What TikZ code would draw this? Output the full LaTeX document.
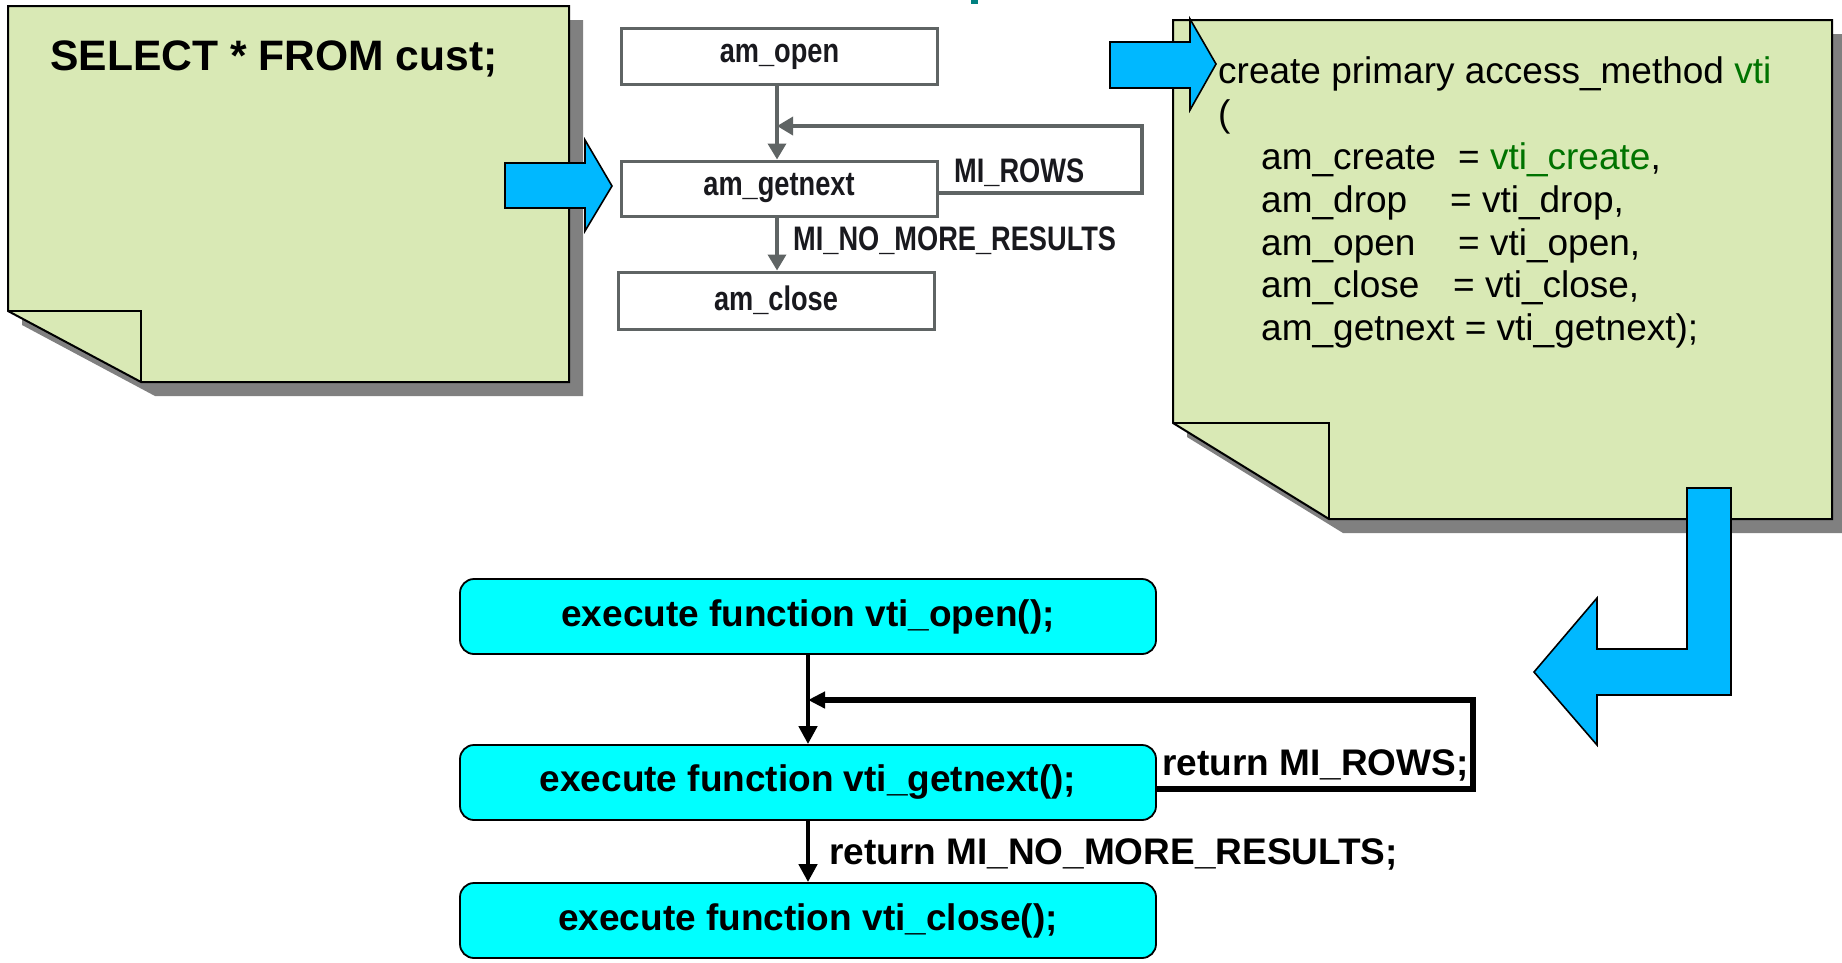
\documentclass[tikz,border=0pt]{standalone}
\usepackage{fontspec}
\setmainfont{Liberation Sans}
\newfontfamily\narrowfont[FakeStretch=0.8]{Liberation Sans}
\usetikzlibrary{arrows.meta}
\definecolor{notegreen}{RGB}{217,233,181}
\definecolor{shadowgray}{RGB}{128,128,128}
\definecolor{arrowblue}{RGB}{0,184,255}
\definecolor{boxcyan}{RGB}{0,255,255}
\definecolor{codegreen}{RGB}{0,115,0}
\definecolor{flowgray}{RGB}{95,100,100}
\definecolor{titleteal}{RGB}{0,128,128}
\definecolor{labelink}{RGB}{25,25,30}
\begin{document}
\begin{tikzpicture}[x=1pt,y=-1pt,
  notebody/.style={fill=notegreen,draw=black,line width=2pt,line join=miter},
  noteshadow/.style={fill=shadowgray,draw=none},
  blockarrow/.style={fill=arrowblue,draw=black,line width=1.6pt,line join=miter},
  grbox/.style={draw=flowgray,line width=3pt,fill=white,inner sep=0pt,minimum width=316pt,minimum height=56pt,font=\narrowfont\bfseries\fontsize{34}{40}\selectfont,text=labelink},
  grarrow/.style={draw=flowgray,line width=3.5pt,line join=miter,-{Triangle[length=16pt,width=18pt]}},
  grlabel/.style={font=\narrowfont\bfseries\fontsize{34}{40}\selectfont,text=labelink,inner sep=0pt,anchor=base west},
  execbox/.style={draw=black,line width=1.8pt,fill=boxcyan,rounded corners=14pt,minimum width=696pt,minimum height=75pt,inner sep=0pt,font=\bfseries\fontsize{37}{44}\selectfont},
  flowarrow/.style={draw=black,line width=4.5pt,line join=miter,-{Triangle[length=18pt,width=18pt]}},
  retlabel/.style={font=\bfseries\fontsize{37}{44}\selectfont,inner sep=0pt,anchor=base west},
  codeline/.style={font=\fontsize{37}{44}\selectfont,inner sep=0pt,anchor=base west},
]
\useasboundingbox (0,0) rectangle (1842,962);

% title fragment
\fill[titleteal] (971,0) rectangle (978,4);

% shadows
\fill[noteshadow,shift={(14,14)}] (8,6) -- (569,6) -- (569,382) -- (141,382) -- (8,311) -- cycle;
\fill[noteshadow,shift={(14,14)}] (1173,20) -- (1832,20) -- (1832,519) -- (1329,519) -- (1173,423) -- cycle;

% left note
\path[notebody] (8,6) -- (569,6) -- (569,382) -- (141,382) -- (8,311) -- cycle;
\draw[line width=2pt] (8,311) -- (141,311) -- (141,382);
\node[anchor=base west,inner sep=0pt,font=\bfseries\fontsize{42.6}{50}\selectfont] (sel) at (50,70) {SELECT * FROM cust;};

% right note
\path[notebody] (1173,20) -- (1832,20) -- (1832,519) -- (1329,519) -- (1173,423) -- cycle;
\draw[line width=2pt] (1173,423) -- (1329,423) -- (1329,519);

\node[codeline] (c1) at (1218,83) {create primary access\_method \textcolor{codegreen}{vti}};
\node[codeline] (c2) at (1218,126) {(};
\node[codeline] (c3) at (1261,169) {\makebox[197pt][l]{am\_create}= \textcolor{codegreen}{vti\_create},};
\node[codeline] (c4) at (1261,212) {\makebox[189pt][l]{am\_drop}= vti\_drop,};
\node[codeline] (c5) at (1261,255) {\makebox[197pt][l]{am\_open}= vti\_open,};
\node[codeline] (c6) at (1261,297.5) {\makebox[192pt][l]{am\_close}= vti\_close,};
\node[codeline] (c7) at (1261,340.5) {am\_getnext = vti\_getnext);};

% block arrows
\path[blockarrow] (505,163) -- (585,163) -- (585,140) -- (612,186) -- (585,231) -- (585,208) -- (505,208) -- cycle;
\path[blockarrow] (1110,42) -- (1190,42) -- (1190,19) -- (1216,64) -- (1190,110) -- (1190,88) -- (1110,88) -- cycle;
\path[blockarrow] (1687,488) -- (1731,488) -- (1731,695) -- (1597,695) -- (1597,745) -- (1534,672) -- (1597,598) -- (1597,649) -- (1687,649) -- cycle;

% gray flowchart
\node[grbox] (aopen) at (779.5,56.5) {am\_open};
\node[grbox,minimum height=55pt] (anext) at (779,188.5) {am\_getnext};
\node[grbox,minimum height=57pt] (aclose) at (776,300.5) {am\_close};
\coordinate (lx) at (777,0);
\coordinate (gl1) at (1142,193);
\coordinate (gl2) at (1142,126);
\draw[grarrow] (aopen.south -| lx) -- (anext.north -| lx);
\draw[grarrow] (anext.east |- gl1) -- (gl1) -- (gl2) -- (gl2 -| lx);
\draw[grarrow] (anext.south -| lx) -- (aclose.north -| lx);
\node[grlabel] (lrows) at (954,182) {MI\_ROWS};
\node[grlabel] (lnomore) at (793,250) {MI\_NO\_MORE\_RESULTS};

% bottom flowchart
\node[execbox] (bopen) at (808,616.5) {execute function vti\_open();};
\node[execbox] (bnext) at (808,782.5) {execute function vti\_getnext();};
\node[execbox] (bclose) at (808,920.5) {execute function vti\_close();};
\coordinate (bl1) at (1473,789);
\coordinate (bl2) at (1473,700);
\draw[flowarrow] (bopen.south) -- (bnext.north);
\draw[flowarrow,line width=5.5pt,-{Triangle[length=17pt,width=16pt]}] (bnext.east |- bl1) -- (bl1) -- (bl2) -- (bl2 -| bopen.south);
\draw[flowarrow] (bnext.south) -- (bclose.north);
\node[retlabel] (rrows) at (1162,775) {return MI\_ROWS;};
\node[retlabel] (rnomore) at (829,864) {return MI\_NO\_MORE\_RESULTS;};
\end{tikzpicture}
\end{document}
